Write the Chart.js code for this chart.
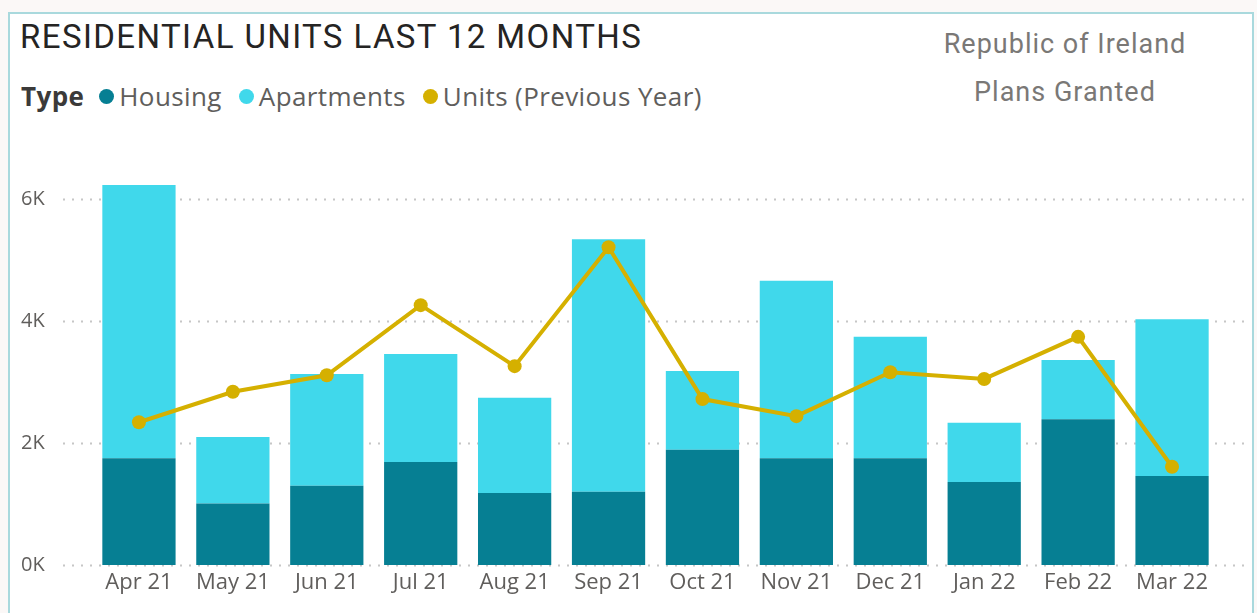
<!DOCTYPE html>
<html>
<head>
<meta charset="utf-8">
<script src="https://cdn.jsdelivr.net/npm/chart.js@4.4.1/dist/chart.umd.min.js"></script>
<style>
    body { margin: 0; background: #fbf8f7; font-family: Roboto, sans-serif; overflow: hidden; }
    #frame { position: absolute; left: 8px; top: 12px; width: 1242px; height: 620px; border: 2px solid #a9d9dd; background: #fff; }
    #title { position: absolute; left: 20px; top: 17px; font-size: 33px; letter-spacing: 1.4px; color: #252423; white-space: nowrap; }
    #legend { position: absolute; left: 21px; top: 78px; font-family: 'Open Sans', sans-serif; font-size: 26px; letter-spacing: 0.4px; color: #605e5c; white-space: nowrap; display: flex; align-items: center; }
    #legend b { color: #3b3a39; margin-right: 15px; }
    #legend .item { display: flex; align-items: center; margin-right: 17px; }
    #legend .dot { width: 15px; height: 15px; border-radius: 50%; margin-right: 5px; }
    #side { position: absolute; left: 915px; width: 300px; top: 20px; text-align: center; font-size: 27px; letter-spacing: 1px; color: #7a7876; line-height: 48px; }
    #wrap { position: absolute; left: 0; top: 0; width: 1257px; height: 613px; }
</style>
</head>
<body>
<div id="frame"></div>
<div id="title">RESIDENTIAL UNITS LAST 12 MONTHS</div>
<div id="legend"><b>Type</b></div>
<div id="side">Republic of Ireland<br>Plans Granted</div>
<div id="wrap"><canvas id="myChart" width="1257" height="613"></canvas></div>
<script>
const months = ['Apr 21', 'May 21', 'Jun 21', 'Jul 21', 'Aug 21', 'Sep 21', 'Oct 21', 'Nov 21', 'Dec 21', 'Jan 22', 'Feb 22', 'Mar 22'];
const housing = [1750, 1010, 1300, 1690, 1180, 1200, 1890, 1750, 1750, 1360, 2390, 1460];
const apartments = [4480, 1090, 1830, 1770, 1560, 4140, 1290, 2910, 1990, 970, 970, 2570];
const previousYear = [2340, 2840, 3110, 4260, 3260, 5210, 2720, 2440, 3160, 3050, 3740, 1610];
const yTickValues = [0, 2000, 4000, 6000];
const yTickLabels = ['0K', '2K', '4K', '6K'];

const colHousing = '#067f93';
const colApart = '#40d8eb';
const colLine = '#d5b000';

// dotted gridlines across the whole visual width
const dottedGrid = {
    id: 'dottedGrid',
    beforeDatasetsDraw(chart) {
        let ctx = chart.ctx;
        let y = chart.scales.y;
        ctx.save();
        ctx.strokeStyle = '#c6c6c6';
        ctx.lineWidth = 2;
        ctx.setLineDash([2, 7]);
        yTickValues.forEach(function(v) {
            let py = Math.round(y.getPixelForValue(v)) + 0.5;
            ctx.beginPath();
            ctx.moveTo(63, py);
            ctx.lineTo(1250, py);
            ctx.stroke();
        });
        ctx.restore();
    }
};

let chart = new Chart(document.getElementById('myChart').getContext('2d'), {
    type: 'bar',
    data: {
        labels: months,
        datasets: [{
            type: 'line',
            label: 'Units (Previous Year)',
            data: previousYear,
            borderColor: colLine,
            backgroundColor: colLine,
            borderWidth: 4,
            pointRadius: 7,
            pointBackgroundColor: colLine,
            pointBorderWidth: 0,
            tension: 0,
            stack: 'line',
            order: 0
        }, {
            label: 'Housing',
            data: housing,
            backgroundColor: colHousing,
            stack: 'bars',
            order: 1
        }, {
            label: 'Apartments',
            data: apartments,
            backgroundColor: colApart,
            stack: 'bars',
            order: 2
        }]
    },
    options: {
        responsive: false,
        animation: false,
        layout: { padding: { left: 21, right: 38, top: 138, bottom: 0 } },
        plugins: { legend: { display: false }, tooltip: { enabled: false } },
        datasets: { bar: { categoryPercentage: 1, barPercentage: 0.78 } },
        scales: {
            x: {
                stacked: true,
                grid: { display: false, drawTicks: false },
                border: { display: false },
                ticks: { color: '#605e5c', font: { family: 'Open Sans', size: 22 }, padding: 5, maxRotation: 0 },
                afterFit(scale) { scale.height = 48; }
            },
            y: {
                stacked: true,
                min: 0,
                max: 7000,
                grid: { display: false, drawTicks: false },
                border: { display: false },
                afterBuildTicks(scale) { scale.ticks = yTickValues.map(v => ({ value: v })); },
                ticks: {
                    color: '#605e5c',
                    font: { family: 'Open Sans', size: 20 },
                    padding: 4,
                    crossAlign: 'far',
                    callback: function(v) { return yTickLabels[yTickValues.indexOf(v)]; }
                },
                afterFit(scale) { scale.width = 71; }
            }
        }
    },
    plugins: [dottedGrid]
});

// legend built from the datasets, bars first like the original
let legend = document.getElementById('legend');
[1, 2, 0].forEach(function(i) {
    let ds = chart.data.datasets[i];
    let item = document.createElement('span');
    item.className = 'item';
    item.innerHTML = '<span class="dot" style="background:' + ds.backgroundColor + '"></span>' + ds.label;
    legend.appendChild(item);
});
</script>
</body>
</html>
